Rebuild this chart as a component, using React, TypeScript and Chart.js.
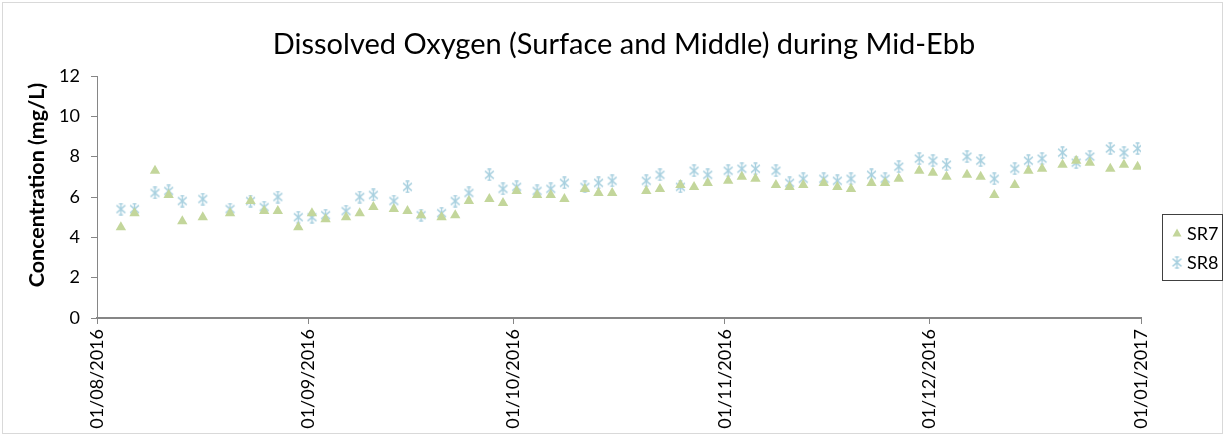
import React, { useEffect, useRef } from "react";
import { Chart, registerables } from "chart.js";

Chart.register(...registerables);

const chartTitle = "Dissolved Oxygen (Surface and Middle) during Mid-Ebb";
const yAxisTitle = "Concentration (mg/L)";
const axisStart = "2016-08-01";
const xTickDates = ["2016-08-01", "2016-09-01", "2016-10-01", "2016-11-01", "2016-12-01", "2017-01-01"];
const xTickLabels = ["01/08/2016", "01/09/2016", "01/10/2016", "01/11/2016", "01/12/2016", "01/01/2017"];

const sampleDates = [
  "2016-08-04", "2016-08-06", "2016-08-09", "2016-08-11", "2016-08-13", "2016-08-16",
  "2016-08-20", "2016-08-23", "2016-08-25", "2016-08-27", "2016-08-30",
  "2016-09-01", "2016-09-03", "2016-09-06", "2016-09-08", "2016-09-10", "2016-09-13",
  "2016-09-15", "2016-09-17", "2016-09-20", "2016-09-22", "2016-09-24", "2016-09-27", "2016-09-29",
  "2016-10-01", "2016-10-04", "2016-10-06", "2016-10-08", "2016-10-11", "2016-10-13", "2016-10-15",
  "2016-10-20", "2016-10-22", "2016-10-25", "2016-10-27", "2016-10-29",
  "2016-11-01", "2016-11-03", "2016-11-05", "2016-11-08", "2016-11-10", "2016-11-12", "2016-11-15",
  "2016-11-17", "2016-11-19", "2016-11-22", "2016-11-24", "2016-11-26", "2016-11-29",
  "2016-12-01", "2016-12-03", "2016-12-06", "2016-12-08", "2016-12-10", "2016-12-13", "2016-12-15",
  "2016-12-17", "2016-12-20", "2016-12-22", "2016-12-24", "2016-12-27", "2016-12-29", "2016-12-31",
];

const sr7 = [
  4.5, 5.2, 7.3, 6.1, 4.8, 5.0, 5.2, 5.8, 5.3, 5.3, 4.5,
  5.2, 4.9, 5.0, 5.2, 5.5, 5.4, 5.3, 5.1, 5.0, 5.1, 5.8, 5.9, 5.7,
  6.3, 6.1, 6.1, 5.9, 6.4, 6.2, 6.2, 6.3, 6.4, 6.6, 6.5, 6.7,
  6.8, 7.0, 6.9, 6.6, 6.5, 6.6, 6.7, 6.5, 6.4, 6.7, 6.7, 6.9, 7.3,
  7.2, 7.0, 7.1, 7.0, 6.1, 6.6, 7.3, 7.4, 7.6, 7.8, 7.7, 7.4, 7.6, 7.5,
];

const sr8 = [
  5.4, 5.4, 6.2, 6.3, 5.8, 5.9, 5.4, 5.8, 5.5, 6.0, 5.0,
  5.0, 5.1, 5.3, 6.0, 6.1, 5.8, 6.5, 5.1, 5.2, 5.8, 6.2, 7.1, 6.4,
  6.5, 6.3, 6.4, 6.7, 6.5, 6.7, 6.8, 6.8, 7.1, 6.5, 7.3, 7.1,
  7.3, 7.4, 7.4, 7.3, 6.7, 6.9, 6.9, 6.8, 6.9, 7.1, 6.9, 7.5, 7.9,
  7.8, 7.6, 8.0, 7.8, 6.9, 7.4, 7.8, 7.9, 8.2, 7.7, 8.0, 8.4, 8.2, 8.4,
];

const seriesNames = ["SR7", "SR8"];
const seriesColors = ["#c3d69b", "#a8d0df"];

const FONT = "Lato, 'Open Sans', sans-serif";

function dayOffset(iso: string): number {
  const [y, m, d] = iso.split("-").map(Number);
  const [y0, m0, d0] = axisStart.split("-").map(Number);
  return (Date.UTC(y, m - 1, d) - Date.UTC(y0, m0 - 1, d0)) / 86400000;
}

function makeStar(color: string, size: number): HTMLCanvasElement {
  const c = document.createElement("canvas");
  c.width = size;
  c.height = size;
  const ctx = c.getContext("2d")!;
  ctx.strokeStyle = color;
  ctx.lineWidth = 1.4;
  const m = size / 2;
  const r = size / 2 - 1;
  ctx.beginPath();
  ctx.moveTo(m, m - r);
  ctx.lineTo(m, m + r);
  ctx.moveTo(m - r * 0.8, m - r * 0.7);
  ctx.lineTo(m + r * 0.8, m + r * 0.7);
  ctx.moveTo(m - r * 0.8, m + r * 0.7);
  ctx.lineTo(m + r * 0.8, m - r * 0.7);
  ctx.moveTo(m - r * 0.35, m - r);
  ctx.lineTo(m + r * 0.35, m - r);
  ctx.moveTo(m - r * 0.35, m + r);
  ctx.lineTo(m + r * 0.35, m + r);
  ctx.stroke();
  return c;
}

export default function App() {
  const canvasRef = useRef<HTMLCanvasElement | null>(null);

  useEffect(() => {
    document.body.style.margin = "0";
    const canvas = canvasRef.current;
    if (!canvas) return;

    const star = makeStar(seriesColors[1], 13);
    const tickDays = xTickDates.map(dayOffset);
    const xs = sampleDates.map((d) => dayOffset(d) + 0.5);

    const decorPlugin = {
      id: "decor",
      beforeDraw(chart: any) {
        const ctx = chart.ctx;
        ctx.save();
        ctx.fillStyle = "#ffffff";
        ctx.fillRect(0, 0, chart.width, chart.height);
        ctx.strokeStyle = "#d9d9d9";
        ctx.lineWidth = 1;
        ctx.strokeRect(2.5, 2.5, chart.width - 5, chart.height - 5);
        ctx.restore();
      },
      afterDraw(chart: any) {
        const ctx = chart.ctx;
        ctx.save();
        // title
        ctx.fillStyle = "#000000";
        ctx.font = `29px ${FONT}`;
        ctx.textAlign = "center";
        ctx.textBaseline = "alphabetic";
        ctx.fillText(chartTitle, 624, 54);
        // y axis title
        ctx.save();
        ctx.translate(37, 185);
        ctx.rotate(-Math.PI / 2);
        ctx.font = `bold 21.5px ${FONT}`;
        ctx.textAlign = "center";
        ctx.textBaseline = "middle";
        ctx.fillText(yAxisTitle, 0, 0);
        ctx.restore();
        // legend
        ctx.strokeStyle = "#404040";
        ctx.lineWidth = 1;
        ctx.strokeRect(1162.5, 214.5, 60, 66);
        const rows = [233.5, 262.5];
        ctx.font = `18px ${FONT}`;
        ctx.textAlign = "left";
        ctx.textBaseline = "middle";
        // triangle
        const tx = 1177, ty = rows[0];
        ctx.fillStyle = seriesColors[0];
        ctx.beginPath();
        ctx.moveTo(tx, ty - 5);
        ctx.lineTo(tx + 4.5, ty + 3);
        ctx.lineTo(tx - 4.5, ty + 3);
        ctx.closePath();
        ctx.fill();
        ctx.drawImage(star, 1177 - 6.5, rows[1] - 6.5);
        ctx.fillStyle = "#000000";
        ctx.fillText(seriesNames[0], 1187, rows[0] + 1);
        ctx.fillText(seriesNames[1], 1187, rows[1] + 1);
        ctx.restore();
      },
    };

    const chart = new Chart(canvas, {
      type: "scatter",
      data: {
        datasets: [
          {
            label: seriesNames[0],
            data: xs.map((x, i) => ({ x, y: sr7[i] })),
            pointStyle: "triangle",
            pointRadius: 6,
            pointBackgroundColor: seriesColors[0],
            pointBorderColor: seriesColors[0],
            pointBorderWidth: 0,
            showLine: false,
          },
          {
            label: seriesNames[1],
            data: xs.map((x, i) => ({ x, y: sr8[i] })),
            pointStyle: star as any,
            pointRadius: 6,
            showLine: false,
          },
        ],
      },
      options: {
        responsive: false,
        animation: false,
        devicePixelRatio: 1,
        layout: { padding: { top: 76, right: 84, bottom: 0, left: 0 } },
        plugins: {
          legend: { display: false },
          title: { display: false },
          tooltip: { enabled: false },
        },
        scales: {
          x: {
            type: "linear",
            min: tickDays[0],
            max: tickDays[tickDays.length - 1],
            afterBuildTicks: (scale: any) => {
              scale.ticks = tickDays.map((v) => ({ value: v }));
            },
            afterFit: (scale: any) => {
              scale.height = 118;
            },
            border: { display: true, color: "#868686", width: 2 },
            grid: { drawOnChartArea: false, drawTicks: true, tickLength: 6, color: "#868686" },
            ticks: {
              autoSkip: false,
              minRotation: 90,
              maxRotation: 90,
              padding: 5,
              color: "#000000",
              font: { family: FONT, size: 18 },
              callback: (value: any) => {
                const idx = tickDays.indexOf(Number(value));
                return idx >= 0 ? xTickLabels[idx] : "";
              },
            },
          },
          y: {
            type: "linear",
            min: 0,
            max: 12,
            afterFit: (scale: any) => {
              scale.width = 97;
            },
            border: { display: true, color: "#868686", width: 1 },
            grid: { drawOnChartArea: false, drawTicks: true, tickLength: 6, color: "#868686" },
            ticks: {
              stepSize: 2,
              padding: 11,
              color: "#000000",
              font: { family: FONT, size: 18 },
            },
          },
        },
      },
      plugins: [decorPlugin],
    });

    return () => chart.destroy();
  }, []);

  return (
    <div style={{ position: "fixed", left: 0, top: 0, width: 1225, height: 436 }}>
      <canvas ref={canvasRef} width={1225} height={436} style={{ width: 1225, height: 436 }} />
    </div>
  );
}
